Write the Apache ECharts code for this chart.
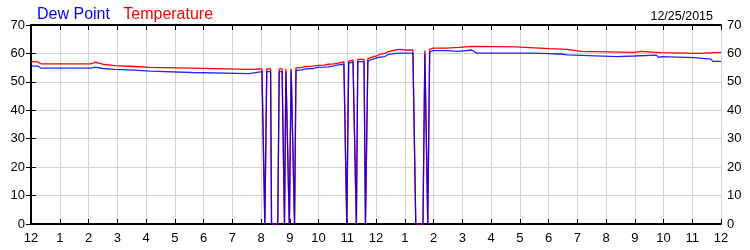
<!DOCTYPE html>
<html>
<head>
<meta charset="utf-8">
<script src="https://cdn.jsdelivr.net/npm/echarts@6/dist/echarts.min.js"></script>
<style>html,body{margin:0;padding:0;background:#fff}#c{width:750px;height:250px}</style>
</head>
<body>
<div id="c"></div>
<script>
// x values are minutes after midnight
var hourLabels = ['12','1','2','3','4','5','6','7','8','9','10','11','12','1','2','3','4','5','6','7','8','9','10','11','12'];
var yTicks = [0,10,20,30,40,50,60,70];
var dateLabel = '12/25/2015';
var seriesNames = ['Dew Point', 'Temperature'];

var tempData = [
  [0,57.1],[15,57.0],[21,56.3],[125,56.3],[128,56.9],[134,56.9],[138,56.2],[150,56.2],[154,55.7],[175,55.7],
  [179,55.4],[215,55.4],[219,55.1],[248,55.1],[252,54.8],[336,54.8],[340,54.4],[455,54.4],[459,54.6],[482,54.6],
  [488,0],[492,54.6],[500,54.6],[502,0],[515,0],[518,54.6],[524,54.6],[529,0],[532,54.6],[534,54.6],[539,0],
  [543,54.6],[545,54.6],[550,0],[553,54.9],[565,55.1],[572,55.4],[590,55.5],[599,55.8],[612,55.9],[620,56.2],
  [632,56.3],[641,56.6],[645,57.0],[653,57.0],[659,0],[663,57.3],[672,57.6],[679,0],[682,57.9],[695,57.9],
  [698,0],[703,58.1],[710,58.6],[714,58.9],[722,59.1],[728,59.7],[739,60.0],[745,60.6],[760,61.2],[770,61.4],
  [780,61.2],[797,61.2],[803,0],[818,0],[822,61.0],[828,0],[832,61.4],[839,61.9],[866,61.9],[870,62.1],
  [893,62.1],[897,62.5],[920,62.5],[924,62.3],[1012,62.3],[1016,61.7],[1081,61.7],[1085,61.4],[1119,61.4],
  [1123,60.7],[1148,60.7],[1152,60.4],[1259,60.4],[1263,60.7],[1273,60.7],[1277,60.3],[1315,60.3],[1319,60.0],
  [1390,60.0],[1394,60.4],[1440,60.4]
];

var dewData = [
  [0,55.6],[15,55.5],[21,54.8],[125,54.8],[128,55.2],[134,55.2],[138,54.7],[150,54.7],[154,54.4],[175,54.4],
  [179,54.1],[215,54.1],[219,53.8],[248,53.8],[252,53.3],[336,53.3],[340,52.9],[455,52.9],[459,53.6],[482,53.6],
  [488,0],[492,53.6],[500,53.6],[502,0],[515,0],[518,53.6],[524,53.6],[529,0],[532,53.6],[534,53.6],[539,0],
  [543,53.6],[545,53.6],[550,0],[553,54.0],[565,54.2],[572,54.6],[590,54.7],[599,55.1],[612,55.2],[620,55.3],
  [632,55.6],[641,56.0],[645,56.2],[653,56.2],[659,0],[663,56.7],[672,56.9],[679,0],[682,57.1],[695,57.1],
  [698,0],[703,57.3],[710,57.8],[714,58.0],[722,58.4],[728,58.7],[739,58.9],[745,59.6],[760,60.0],[770,60.1],
  [797,60.1],[803,0],[818,0],[822,60.0],[828,0],[832,60.5],[839,61.0],[866,61.0],[870,60.7],[893,60.7],
  [897,61.2],[920,61.2],[924,60.5],[930,60.1],[1048,60.1],[1052,59.9],[1081,59.9],[1085,59.6],[1096,59.8],
  [1106,59.8],[1110,59.5],[1119,59.5],[1123,58.9],[1223,58.9],[1227,59.1],[1259,59.1],[1263,59.4],[1305,59.4],
  [1310,58.6],[1315,58.9],[1319,58.5],[1384,58.5],[1388,58.0],[1419,58.0],[1423,57.2],[1440,57.2]
];

var chart = echarts.init(document.getElementById('c'), null, {renderer:'canvas'});
var FONT = 'Liberation Sans, Arial, sans-serif';
var gridLine = {show:true, lineStyle:{color:'#d3d3d3', width:1}};
function yAxisCfg(pos){
  return {
    type:'value', position:pos, min:0, max:70, interval:10,
    axisLine:{show:true, lineStyle:{color:'#000', width: pos==='left'?2:1.5}},
    axisTick:{show:true, inside:true, length:5, lineStyle:{color:'#000', width:1}},
    axisLabel:{show:true, margin:6, color:'#000', fontSize:13, fontFamily:FONT,
      formatter:function(v){ return yTicks.indexOf(v)>=0 ? String(v) : ''; }},
    splitLine: pos==='left' ? gridLine : {show:false}
  };
}
function xAxisCfg(pos){
  return {
    type:'value', position:pos, min:0, max:1440, interval:60,
    axisLine:{show:true, onZero:false, lineStyle:{color:'#000', width:2}},
    axisTick:{show:true, inside:true, length:5, lineStyle:{color:'#000', width:1}},
    axisLabel:{show: pos==='bottom', margin:8, color:'#000', fontSize:13, fontFamily:FONT,
      formatter:function(v){ return hourLabels[Math.round(v/60)]; }},
    splitLine: pos==='bottom' ? gridLine : {show:false}
  };
}
chart.setOption({
  animation:false,
  backgroundColor:'#fff',
  title:[
    {text:'{b|' + seriesNames[0] + '}   {r|' + seriesNames[1] + '}', left:32, top:2,
     textStyle:{fontWeight:'normal', fontSize:16, fontFamily:FONT, rich:{
       b:{color:'#0000ff', fontSize:16, fontWeight:'normal', fontFamily:FONT},
       r:{color:'#ff0000', fontSize:16, fontWeight:'normal', fontFamily:FONT}}}},
    {text:dateLabel, right:32, top:5, textStyle:{color:'#000', fontSize:12.5, fontWeight:'normal', fontFamily:FONT}}
  ],
  grid:{left:31, right:29, top:25, bottom:26, containLabel:false},
  xAxis:[xAxisCfg('bottom'), xAxisCfg('top')],
  yAxis:[yAxisCfg('left'), yAxisCfg('right')],
  series:[
    {name:seriesNames[1], type:'line', data:tempData, showSymbol:false, symbol:'none',
     lineStyle:{color:'#ff0000', width:1.3}, xAxisIndex:0, yAxisIndex:0, z:2},
    {name:seriesNames[0], type:'line', data:dewData, showSymbol:false, symbol:'none',
     lineStyle:{color:'#0000ff', width:1.3, opacity:0.85}, xAxisIndex:0, yAxisIndex:0, z:3}
  ]
});
</script>
</body>
</html>
